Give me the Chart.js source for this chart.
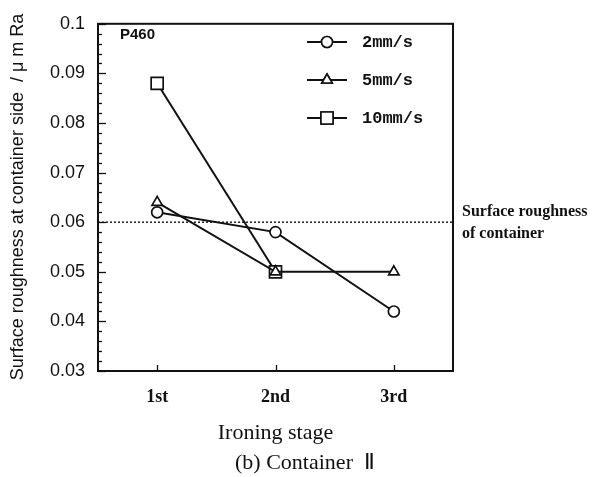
<!doctype html>
<html lang="en">
	<head>
		<meta charset="UTF-8" />
		<title>Surface roughness - Container II</title>
		<script src="https://cdn.jsdelivr.net/npm/chart.js"></script>
		<style>
			html, body {
				margin: 0;
				padding: 0;
				background: #fff;
			}
			#wrap {
				width: 601px;
				height: 477px;
			}
		</style>
	</head>
	<body>
		<div id="wrap"><canvas id="roughChart" width="601" height="477"></canvas></div>

		<script>
			// data
			const stages = ['1st', '2nd', '3rd']
			const stageX = [1, 2, 3]
			const rough2mm = [0.062, 0.058, 0.042]
			const rough5mm = [0.064, 0.05, 0.05]
			const rough10mm = [0.088, 0.05, null]
			const seriesNames = ['2mm/s', '5mm/s', '10mm/s']
			const yTicks = [0.03, 0.04, 0.05, 0.06, 0.07, 0.08, 0.09, 0.1]
			const yTickLabels = ['0.03', '0.04', '0.05', '0.06', '0.07', '0.08', '0.09', '0.1']
			const containerRoughness = 0.06

			const toPoints = (vals) =>
				vals.map((v, i) => ({ x: stageX[i], y: v })).filter((p) => p.y !== null)

			const markerStyles = [
				{ pointStyle: 'circle', radius: 5.5 },
				{ pointStyle: 'triangle', radius: 6 },
				{ pointStyle: 'rect', radius: 8.5 }
			]

			function makeSet(name, vals, m) {
				return {
					label: name,
					data: toPoints(vals),
					borderColor: '#111',
					borderWidth: 2,
					backgroundColor: '#fff',
					pointStyle: m.pointStyle,
					pointRadius: m.radius,
					pointBorderWidth: 1.7,
					pointBackgroundColor: '#fff',
					pointBorderColor: '#111',
					tension: 0
				}
			}

			// frame, ticks, reference line, legend and texts
			const decorations = {
				id: 'decorations',
				beforeDatasetsDraw(chart) {
					const ctx = chart.ctx
					const a = chart.chartArea
					const ys = chart.scales.y
					const xs = chart.scales.x
					ctx.save()
					// dotted reference line
					const yRef = ys.getPixelForValue(containerRoughness)
					ctx.strokeStyle = '#222'
					ctx.lineWidth = 1.5
					ctx.setLineDash([2, 2])
					ctx.beginPath()
					ctx.moveTo(a.left, yRef)
					ctx.lineTo(a.right, yRef)
					ctx.stroke()
					ctx.setLineDash([])

					// frame
					ctx.strokeStyle = '#111'
					ctx.lineWidth = 2
					ctx.strokeRect(a.left, a.top, a.right - a.left, a.bottom - a.top)

					// y ticks (major + minor), inward
					ctx.lineWidth = 1.3
					for (let k = 0; k <= 35; k++) {
						const v = 0.03 + k * 0.002
						const y = Math.round(ys.getPixelForValue(v)) + 0.5
						const len = k % 5 === 0 ? 8 : 4
						ctx.beginPath()
						ctx.moveTo(a.left, y)
						ctx.lineTo(a.left + len, y)
						ctx.stroke()
					}
					// x ticks, inward
					stageX.forEach((v) => {
						const x = Math.round(xs.getPixelForValue(v)) + 0.5
						ctx.beginPath()
						ctx.moveTo(x, a.bottom)
						ctx.lineTo(x, a.bottom - 6)
						ctx.stroke()
					})
					ctx.restore()
				},
				afterDraw(chart) {
					const ctx = chart.ctx
					const a = chart.chartArea
					const ys = chart.scales.y
					ctx.save()
					ctx.fillStyle = '#111'

					// legend (inside plot)
					const legX = 307
					const legY = [42, 80, 118]
					chart.data.datasets.forEach((ds, i) => {
						const y = legY[i]
						ctx.strokeStyle = '#111'
						ctx.lineWidth = 1.8
						ctx.beginPath()
						ctx.moveTo(legX, y)
						ctx.lineTo(legX + 40, y)
						ctx.stroke()
						ctx.lineWidth = 1.6
						ctx.fillStyle = '#fff'
						Chart.helpers.drawPoint(
							ctx,
							{ pointStyle: ds.pointStyle, radius: ds.pointRadius, borderWidth: 1.6 },
							legX + 20,
							y
						)
						ctx.fill()
						ctx.stroke()
						ctx.fillStyle = '#111'
						ctx.font = 'bold 17px "Liberation Mono"'
						ctx.textAlign = 'left'
						ctx.textBaseline = 'middle'
						ctx.fillText(ds.label, legX + 55, y + 1)
					})

					// material label
					ctx.font = 'bold 15px "Liberation Sans"'
					ctx.textAlign = 'left'
					ctx.textBaseline = 'middle'
					ctx.fillText('P460', a.left + 22, 35)

					// reference line note
					const yRef = ys.getPixelForValue(containerRoughness)
					ctx.font = 'bold 16px "Liberation Serif"'
					ctx.fillText('Surface roughness', a.right + 9, yRef - 10)
					ctx.fillText('of container', a.right + 9, yRef + 12)

					// y axis title
					ctx.save()
					ctx.translate(18, 197)
					ctx.rotate(-Math.PI / 2)
					ctx.textAlign = 'center'
					ctx.font = '18px "Liberation Sans"'
					ctx.fillText('Surface roughness at container side  / \u03bc m Ra', 0, 0)
					ctx.restore()

					// x axis title and caption
					ctx.textAlign = 'center'
					ctx.font = '22px "Liberation Serif"'
					ctx.fillText('Ironing stage', (a.left + a.right) / 2, 433)
					ctx.fillText('(b) Container  \u2161', 305, 463)
					ctx.restore()
				}
			}

			new Chart(document.getElementById('roughChart'), {
				type: 'line',
				data: {
					datasets: [
						makeSet(seriesNames[0], rough2mm, markerStyles[0]),
						makeSet(seriesNames[1], rough5mm, markerStyles[1]),
						makeSet(seriesNames[2], rough10mm, markerStyles[2])
					]
				},
				options: {
					responsive: false,
					animation: false,
					layout: { padding: { left: 0, right: 148, top: 20, bottom: 0 } },
					plugins: {
						legend: { display: false },
						tooltip: { enabled: false }
					},
					scales: {
						x: {
							type: 'linear',
							min: 0.5,
							max: 3.5,
							grid: { display: false, drawTicks: false },
							border: { display: false },
							afterBuildTicks: (s) => {
								s.ticks = stageX.map((v) => ({ value: v }))
							},
							afterFit: (s) => {
								s.height = 106
							},
							ticks: {
								padding: 16,
								color: '#111',
								font: { family: '"Liberation Serif"', size: 18, weight: 'bold' },
								callback: (v) => stages[stageX.indexOf(v)]
							}
						},
						y: {
							min: 0.03,
							max: 0.1,
							grid: { display: false, drawTicks: false },
							border: { display: false },
							afterBuildTicks: (s) => {
								s.ticks = yTicks.map((v) => ({ value: v }))
							},
							afterFit: (s) => {
								s.width = 98
							},
							ticks: {
								padding: 13,
								color: '#111',
								font: { family: '"Liberation Sans"', size: 18 },
								callback: (v) => yTickLabels[yTicks.findIndex((t) => Math.abs(t - v) < 1e-9)]
							}
						}
					}
				},
				plugins: [decorations]
			})
		</script>
	</body>
</html>
